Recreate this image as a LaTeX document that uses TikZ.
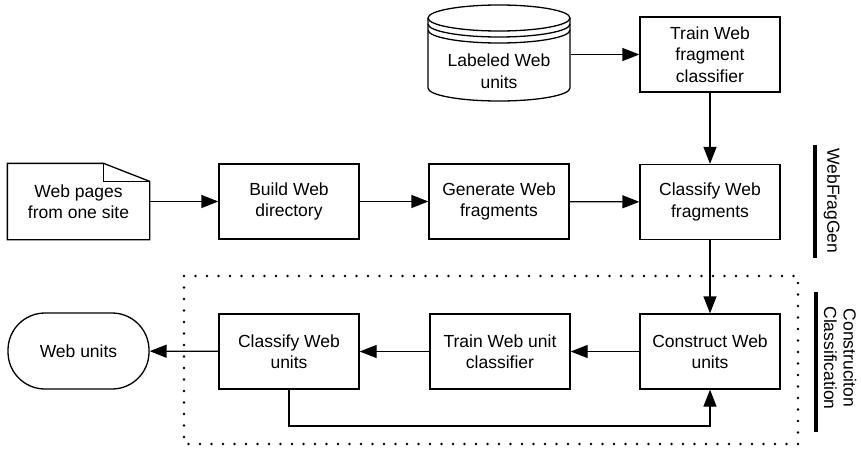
\documentclass[tikz,border=0pt]{standalone}
\usepackage{fontspec}
\setmainfont{Liberation Sans}
\usetikzlibrary{arrows.meta,calc}

\begin{document}
\begin{tikzpicture}[x=1pt,y=-1pt,
  font=\fontsize{17.5}{21.5}\selectfont,
  line width=1.3pt,
  box/.style={draw, rectangle, minimum width=140pt, minimum height=75pt, inner sep=0pt, align=center},
  arr/.style={-{Triangle[length=17pt,width=13pt]}},
  dotframe/.style={line width=2.6pt, line cap=round, dash pattern=on 0pt off 11.5pt},
  bar/.style={line width=3.3pt}]

  \useasboundingbox (0,0) rectangle (861,450);

  % dotted frame of the construction / classification stage
  \draw[dotframe] (184,276) rectangle (798,444);

  % data store: labeled web units
  \node[minimum width=142pt, minimum height=96pt, inner sep=0pt] (store) at (499,53) {};
  \node[align=center] (storetxt) at (499,71) {Labeled Web\\units};
  \draw (428,18) arc[start angle=180, end angle=-180, x radius=71, y radius=13];
  \draw (428,24) arc[start angle=180, end angle=0, x radius=71, y radius=13];
  \draw (428,30) arc[start angle=180, end angle=0, x radius=71, y radius=13];
  \draw (428,18) -- (428,88) arc[start angle=180, end angle=0, x radius=71, y radius=13] -- (570,18);

  % web pages document with folded corner
  \node[minimum width=141pt, minimum height=75pt, inner sep=0pt, align=center] (pages) at (78.5,201.5) {Web pages\\from one site};
  \draw ($(pages.north east)+(-46,0)$) coordinate (foldA)
        -- (pages.north west) -- (pages.south west) -- (pages.south east)
        -- ($(pages.north east)+(0,18)$) coordinate (foldB) -- cycle;
  \draw (foldA) -- (foldA |- foldB) -- (foldB);

  % process boxes
  \node[box] (build) at (289,201.5) {Build Web\\directory};
  \node[box] (gen)   at (499,201.5) {Generate Web\\fragments};
  \node[box] (cfrag) at (710,202)   {Classify Web\\fragments};
  \node[box] (tfrag) at (710,54.5)  {Train Web\\fragment\\classifier};

  \node[box] (cons)  at (710,351.5) {Construct Web\\units};
  \node[box] (tunit) at (500,351.5) {Train Web unit\\classifier};
  \node[box] (cunit) at (289,351.5) {Classify Web\\units};
  \node[draw, rectangle, rounded corners=37pt, minimum width=141pt, minimum height=76pt, inner sep=0pt] (units) at (78.5,351) {Web units};

  % connectors
  \draw[arr] (store.east |- tfrag.west) -- (tfrag.west);
  \draw[arr] (pages) -- (build);
  \draw[arr] (build) -- (gen);
  \draw[arr] (gen) -- (cfrag);
  \draw[arr] (tfrag) -- (cfrag);
  \draw[arr] (cfrag) -- (cons);
  \draw[arr] (cons) -- (tunit);
  \draw[arr] (tunit) -- (cunit);
  \draw[arr] (cunit) -- (units);
  \coordinate (loopy) at (0,426);
  \draw[arr] (cunit.south) -- (cunit.south |- loopy) -| (cons.south);

  % stage labels
  \draw[bar] (815,145) -- (815,258);
  \node[rotate=-90, inner sep=0pt] (lblfrag) at (832,201) {WebFragGen};
  \draw[bar] (816,292) -- (816,432);
  \node[rotate=-90, inner sep=0pt, align=center, font=\fontsize{17.5}{19.5}\selectfont] (lblcons) at (840,358) {Construciton\\Classification};
\end{tikzpicture}
\end{document}
